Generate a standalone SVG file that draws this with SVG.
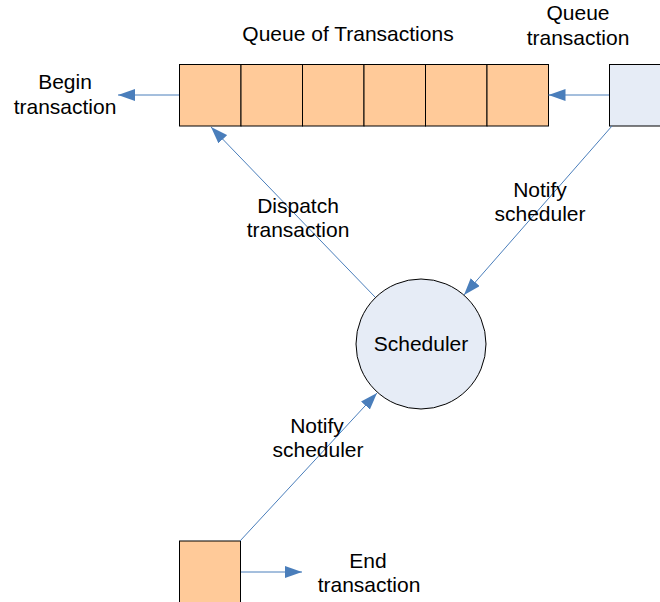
<svg xmlns="http://www.w3.org/2000/svg" width="660" height="602" viewBox="0 0 660 602">
  <style>
    .lbl { font-family: "Liberation Sans", Arial, sans-serif; font-size: 21px; fill: #000; text-anchor: middle; }
    .cell { fill: #FFCA99; stroke: #000; stroke-width: 1; }
    .blue { fill: #E6ECF6; stroke: #000; stroke-width: 1; }
    .conn { stroke: #4A7EBB; stroke-width: 1; fill: none; marker-end: url(#arrow); }
  </style>
  <defs>
    <marker id="arrow" markerUnits="userSpaceOnUse" markerWidth="18" markerHeight="12" refX="17" refY="6" orient="auto">
      <path d="M0,0 L17,6 L0,12 Z" fill="#4A7EBB"/>
    </marker>
  </defs>
  <rect width="660" height="602" fill="#fff"/>

  <!-- transaction queue -->
  <g id="queue">
    <rect class="cell" x="179.5" y="64.5" width="61.5" height="61.5"/>
    <rect class="cell" x="241" y="64.5" width="61.5" height="61.5"/>
    <rect class="cell" x="302.5" y="64.5" width="61.5" height="61.5"/>
    <rect class="cell" x="364" y="64.5" width="61.5" height="61.5"/>
    <rect class="cell" x="425.5" y="64.5" width="61.5" height="61.5"/>
    <rect class="cell" x="487" y="64.5" width="61.5" height="61.5"/>
    <text class="lbl" x="348" y="41">Queue of Transactions</text>
  </g>

  <!-- incoming transaction -->
  <g id="incoming">
    <rect class="blue" x="609.5" y="64.5" width="62" height="61.5"/>
    <text class="lbl" x="578" y="20">Queue</text>
    <text class="lbl" x="578" y="45">transaction</text>
  </g>

  <!-- scheduler -->
  <g id="scheduler">
    <circle class="blue" cx="421" cy="344" r="65"/>
    <text class="lbl" x="421" y="351">Scheduler</text>
  </g>

  <!-- finished transaction -->
  <g id="finished">
    <rect class="cell" x="179.5" y="541" width="61" height="62"/>
  </g>

  <!-- free labels -->
  <g id="begin">
    <text class="lbl" x="65" y="89">Begin</text>
    <text class="lbl" x="65" y="114">transaction</text>
  </g>
  <g id="end">
    <text class="lbl" x="368" y="568">End</text>
    <text class="lbl" x="369" y="592">transaction</text>
  </g>

  <!-- connectors -->
  <g id="connectors">
    <line class="conn" x1="609" y1="95" x2="548.5" y2="95"/>
    <line class="conn" x1="179" y1="95" x2="118" y2="95"/>
    <line class="conn" x1="612" y1="126" x2="464" y2="295"/>
    <line class="conn" x1="375" y1="297" x2="211" y2="127"/>
    <line class="conn" x1="240" y1="541" x2="377" y2="393"/>
    <line class="conn" x1="241" y1="572" x2="302" y2="572"/>
    <text class="lbl" x="540" y="197">Notify</text>
    <text class="lbl" x="540" y="221">scheduler</text>
    <text class="lbl" x="298" y="213">Dispatch</text>
    <text class="lbl" x="298" y="237">transaction</text>
    <text class="lbl" x="317" y="433">Notify</text>
    <text class="lbl" x="318" y="457">scheduler</text>
  </g>
</svg>
